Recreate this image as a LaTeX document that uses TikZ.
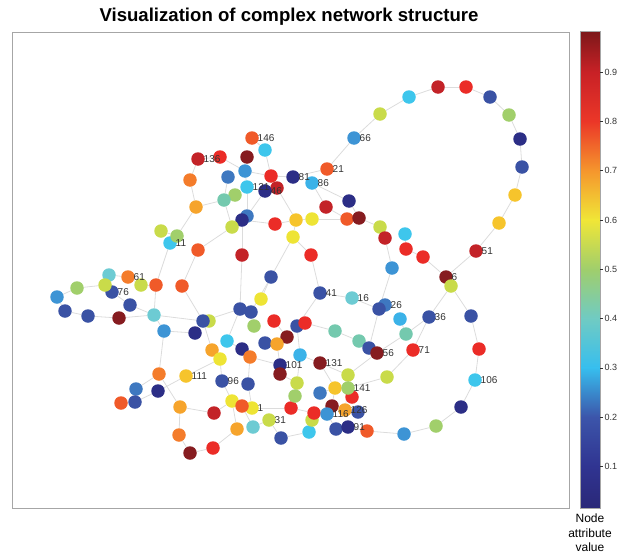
\documentclass[tikz,border=0pt]{standalone}
\usepackage{fontspec}
\setmainfont{Liberation Sans}
\usetikzlibrary{backgrounds}

\definecolor{cNavy}{HTML}{2C2E86}
\definecolor{cBlue}{HTML}{3A52A4}
\definecolor{cSteel}{HTML}{3E78C0}
\definecolor{cLblue}{HTML}{3D94D5}
\definecolor{cSky}{HTML}{3BB2E8}
\definecolor{cCyan}{HTML}{3EC6EC}
\definecolor{cTeal}{HTML}{6DCBD3}
\definecolor{cAqua}{HTML}{74C9AE}
\definecolor{cLgreen}{HTML}{A1CF6B}
\definecolor{cYgreen}{HTML}{C9DB4A}
\definecolor{cYellow}{HTML}{EEE435}
\definecolor{cGold}{HTML}{F6C42C}
\definecolor{cOryel}{HTML}{F6A42C}
\definecolor{cOrange}{HTML}{F47C2B}
\definecolor{cOrred}{HTML}{F05A29}
\definecolor{cRed}{HTML}{EB2C27}
\definecolor{cFire}{HTML}{C32328}
\definecolor{cMaroon}{HTML}{861C20}
\definecolor{cbA}{HTML}{2A2878}
\definecolor{cbB}{HTML}{303491}
\definecolor{cbC}{HTML}{3C55AA}
\definecolor{cbD}{HTML}{37BEEE}
\definecolor{cbE}{HTML}{70CBC3}
\definecolor{cbF}{HTML}{A0CE6C}
\definecolor{cbG}{HTML}{F0E637}
\definecolor{cbH}{HTML}{F5962D}
\definecolor{cbI}{HTML}{EB3728}
\definecolor{cbJ}{HTML}{C82126}
\definecolor{cbK}{HTML}{7D181A}
\definecolor{edgegray}{HTML}{DCDCDC}
\definecolor{framegray}{HTML}{A6A6A6}
\definecolor{labelgray}{HTML}{333333}

\tikzset{dot/.style={circle,draw=none,minimum size=13.5pt,inner sep=0pt},
  tag/.style={anchor=west,inner sep=0pt,xshift=5.5pt,font=\fontsize{10}{12}\selectfont,text=labelgray},
  link/.style={draw=edgegray,line width=0.8pt}}

\begin{document}
\begin{tikzpicture}[x=1pt,y=-1pt]
\useasboundingbox (0,0) rectangle (619,557);

\node[font=\bfseries\fontsize{18.6}{20}\selectfont] (title) at (289,17) {Visualization of complex network structure};
\draw[framegray,line width=0.8pt] (12,32) rectangle (569,508);

% nodes, in drawing order
\foreach \n/\x/\y/\c in {
  v1/409/97/cCyan, v2/438/87/cFire, v3/466/87/cRed, v4/490/97/cBlue,
  v5/509/115/cLgreen, v6/520/139/cNavy, v7/522/167/cBlue, v8/515/195/cGold,
  v9/499/223/cGold, v10/476/251/cFire, v11/380/114/cYgreen, v12/354/138/cLblue,
  v13/327/169/cOrred, v14/252/138/cOrred, v15/265/150/cCyan, v16/247/157/cMaroon,
  v17/220/157/cRed, v18/198/159/cFire, v19/190/180/cOrange, v20/228/177/cSteel,
  v21/245/171/cLblue, v22/271/176/cRed, v23/293/177/cNavy, v24/312/183/cSky,
  v25/247/187/cCyan, v27/277/188/cFire, v26/265/191/cNavy, v28/235/195/cLgreen,
  v29/224/200/cAqua, v30/196/207/cOryel, v31/349/201/cNavy, v32/326/207/cFire,
  v33/347/219/cOrred, v34/359/218/cMaroon, v35/380/227/cYgreen, v36/405/234/cCyan,
  v37/385/238/cFire, v38/406/249/cRed, v39/423/257/cRed, v40/446/277/cMaroon,
  v41/451/286/cYgreen, v42/392/268/cLblue, v43/247/216/cSteel, v44/242/220/cNavy,
  v45/232/227/cYgreen, v46/275/224/cRed, v47/296/220/cGold, v48/312/219/cYellow,
  v49/293/237/cYellow, v50/311/255/cRed, v51/242/255/cFire, v52/161/231/cYgreen,
  v54/170/243/cCyan, v53/177/236/cLgreen, v55/198/250/cOrred, v56/271/277/cBlue,
  v57/320/293/cBlue, v58/352/298/cTeal, v59/385/305/cSteel, v149/379/309/cBlue,
  v60/400/319/cSky, v61/429/317/cBlue, v62/471/316/cBlue, v63/479/349/cRed,
  v64/475/380/cCyan, v65/461/407/cNavy, v66/436/426/cLgreen, v67/404/434/cLblue,
  v68/367/431/cOrred, v69/406/334/cAqua, v70/413/350/cRed, v71/387/377/cYgreen,
  v74/359/341/cAqua, v73/369/348/cBlue, v72/377/353/cMaroon, v75/335/331/cAqua,
  v77/297/326/cBlue, v76/305/323/cRed, v79/274/321/cRed, v80/261/299/cYellow,
  v81/254/326/cLgreen, v82/240/309/cBlue, v83/251/312/cBlue, v84/265/343/cBlue,
  v78/287/337/cMaroon, v85/277/344/cOryel, v86/300/355/cSky, v87/320/363/cMaroon,
  v88/280/365/cNavy, v89/280/374/cMaroon, v91/242/349/cNavy, v90/250/357/cOrange,
  v92/227/341/cCyan, v93/195/333/cNavy, v150/209/321/cYgreen, v94/203/321/cBlue,
  v95/164/331/cLblue, v96/154/315/cTeal, v97/182/286/cOrred, v98/156/285/cOrred,
  v99/141/285/cYgreen, v101/109/275/cTeal, v100/128/277/cOrange, v103/112/292/cBlue,
  v102/105/285/cYgreen, v104/77/288/cLgreen, v105/57/297/cLblue, v106/65/311/cBlue,
  v107/88/316/cBlue, v108/119/318/cMaroon, v109/130/305/cBlue, v110/212/350/cOryel,
  v111/220/359/cYellow, v112/159/374/cOrange, v113/186/376/cGold, v114/136/389/cSteel,
  v115/158/391/cNavy, v116/135/402/cBlue, v117/121/403/cOrred, v118/180/407/cOryel,
  v119/179/435/cOrange, v120/190/453/cMaroon, v121/213/448/cRed, v122/214/413/cFire,
  v123/222/381/cBlue, v124/248/384/cBlue, v125/232/401/cYellow, v127/252/408/cYellow,
  v126/242/406/cOrred, v128/237/429/cOryel, v129/253/427/cTeal, v130/269/420/cYgreen,
  v131/281/438/cBlue, v132/291/408/cRed, v133/309/432/cCyan, v134/312/420/cYgreen,
  v135/314/413/cRed, v136/297/383/cYgreen, v137/295/396/cLgreen, v138/320/393/cSteel,
  v139/335/388/cGold, v142/352/397/cRed, v140/348/375/cYgreen, v141/348/388/cLgreen,
  v143/332/406/cMaroon, v145/358/412/cBlue, v144/345/410/cOryel, v146/327/414/cLblue,
  v147/336/429/cBlue, v148/348/427/cNavy}
  \node[dot,fill=\c] (\n) at (\x,\y) {};

% edges, kept under the nodes
\begin{scope}[on background layer]
\foreach \a/\b in {v13/v12,v12/v11,v11/v1,v1/v2,v2/v3,v3/v4,v4/v5,v5/v6,v6/v7,v7/v8,
  v8/v9,v9/v10,v10/v40,v40/v39,v39/v38,v38/v36,v37/v35,v35/v34,v34/v31,v31/v24,
  v24/v32,v32/v33,v33/v48,v37/v42,v42/v149,v149/v58,v58/v57,v57/v50,v57/v77,
  v50/v49,v49/v47,v49/v56,v47/v48,v47/v46,v46/v44,v44/v51,v51/v82,v47/v27,v27/v22,
  v22/v15,v15/v14,v22/v23,v23/v13,v21/v17,v21/v22,v21/v25,v17/v18,v18/v19,v19/v30,
  v30/v29,v29/v20,v29/v28,v29/v45,v25/v43,v26/v43,v30/v53,v53/v52,v54/v98,v55/v45,
  v55/v97,v97/v94,v98/v99,v99/v100,v100/v101,v102/v104,v104/v105,v105/v106,
  v106/v107,v107/v108,v108/v96,v103/v109,v109/v96,v98/v96,v96/v94,v96/v95,v95/v93,
  v95/v112,v112/v114,v114/v116,v116/v117,v116/v115,v115/v113,v113/v111,v112/v118,
  v118/v119,v119/v120,v120/v121,v121/v128,v128/v125,v118/v122,v122/v125,v125/v123,
  v123/v111,v111/v110,v110/v94,v94/v82,v82/v92,v92/v91,v82/v83,v83/v56,v80/v56,
  v81/v83,v84/v85,v85/v78,v78/v79,v91/v90,v90/v124,v90/v88,v85/v88,v88/v89,
  v89/v136,v136/v137,v137/v132,v86/v77,v86/v136,v86/v87,v87/v140,v87/v139,
  v139/v138,v139/v143,v143/v146,v146/v147,v147/v148,v148/v68,v68/v67,v67/v66,
  v66/v65,v65/v64,v64/v63,v63/v62,v62/v41,v41/v61,v61/v70,v61/v69,v69/v72,v69/v60,
  v72/v140,v73/v149,v73/v74,v74/v75,v75/v76,v70/v71,v71/v141,v140/v141,v141/v142,
  v141/v144,v144/v145,v126/v127,v126/v129,v129/v130,v130/v131,v131/v133,v133/v134,
  v124/v127,v127/v132,v132/v135,v135/v143}
  \draw[link] (\a) -- (\b);
\end{scope}

% labels on every fifth node
\foreach \n/\t in {v127/1,v40/6,v54/11,v58/16,v13/21,v59/26,v130/31,v61/36,v57/41,
  v26/46,v10/51,v72/56,v100/61,v12/66,v70/71,v103/76,v23/81,v24/86,v148/91,v123/96,
  v88/101,v64/106,v113/111,v146/116,v25/121,v144/126,v87/131,v18/136,v141/141,v14/146}
  \node[tag] at (\n.center) {\t};

% colour bar
\foreach \ya/\yb/\ca/\cb in {31.6/72/cbK/cbJ,72/121.3/cbJ/cbI,121.3/170.6/cbI/cbH,
  170.6/219.9/cbH/cbG,219.9/269.2/cbG/cbF,269.2/318.5/cbF/cbE,318.5/367.8/cbE/cbD,
  367.8/417.1/cbD/cbC,417.1/466.4/cbC/cbB,466.4/508/cbB/cbA}
  \shade[top color=\ca,bottom color=\cb] (580,\ya) rectangle (600,\yb);
\draw[framegray,line width=0.6pt] (580,31.6) rectangle (600,508);
\foreach \v in {1,...,9}{
  \draw[labelgray,line width=0.5pt] (600,{72+(9-\v)*49.3}) -- ++(3,0);
  \node[anchor=west,inner sep=0pt,font=\fontsize{9}{11}\selectfont,text=labelgray]
    at (604.5,{72+(9-\v)*49.3}) {0.\v};
}
\node[align=center,font=\fontsize{12}{14.5}\selectfont] (cbname) at (590,533) {Node\\attribute\\value};

\end{tikzpicture}
\end{document}
